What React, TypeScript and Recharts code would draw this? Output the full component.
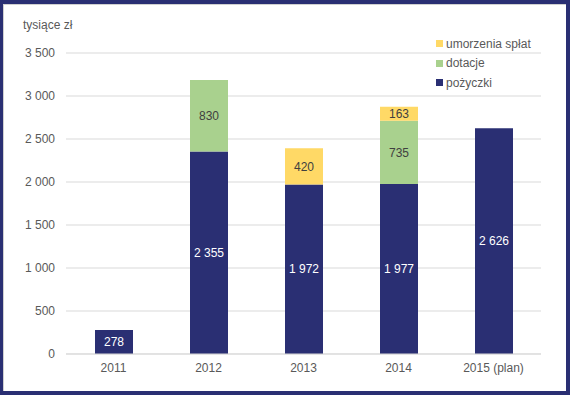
import React from "react";
import { BarChart, Bar, XAxis, YAxis, CartesianGrid, LabelList } from "recharts";

const years = ["2011", "2012", "2013", "2014", "2015 (plan)"];
const pozyczki = [278, 2355, 1972, 1977, 2626];
const dotacje = [null, 830, null, 735, null];
const umorzenia = [null, null, 420, 163, null];
const yTicks = [0, 500, 1000, 1500, 2000, 2500, 3000, 3500];

const NAVY = "#2a2f73";
const GREEN = "#a9d18e";
const YELLOW = "#ffd966";
const TEXT = "#595959";
const FONT = "'Liberation Sans', Arial, sans-serif";

const data = years.map((y, i) => ({
  year: y,
  pozyczki: pozyczki[i],
  dotacje: dotacje[i],
  umorzenia: umorzenia[i],
}));

// "2355" -> "2 355"
const fmt = (v: any) => {
  if (v === null || v === undefined || v === "") return "";
  return String(v).replace(/\B(?=(\d{3})+(?!\d))/g, " ");
};

const legendItems = [
  { label: "umorzenia spłat", color: YELLOW },
  { label: "dotacje", color: GREEN },
  { label: "pożyczki", color: NAVY },
];

// legend drawn as an overlay so it doesn't eat plot space
const LegendBox = () => (
  <div
    style={{
      position: "absolute",
      left: 436,
      top: 34,
      fontFamily: FONT,
      fontSize: 12,
      color: TEXT,
    }}
  >
    {legendItems.map((it) => (
      <div key={it.label} style={{ display: "flex", alignItems: "center", height: 19.5 }}>
        <span style={{ width: 7, height: 7, background: it.color, marginRight: 3, display: "inline-block" }} />
        <span>{it.label}</span>
      </div>
    ))}
  </div>
);

export default function App() {
  return (
    <div style={{ position: "absolute", left: 0, top: 0, width: 570, height: 395, background: "#fff" }}>
      <BarChart
        width={570}
        height={395}
        data={data}
        margin={{ top: 53, right: 29, bottom: 11, left: 0 }}
        barSize={38}
      >
        <CartesianGrid vertical={false} stroke="#d9d9d9" />
        <XAxis
          dataKey="year"
          height={30}
          tickSize={0}
          tickMargin={9}
          axisLine={{ stroke: "#d9d9d9" }}
          tick={{ fontSize: 12, fill: TEXT, fontFamily: FONT }}
        />
        <YAxis
          width={66}
          domain={[0, 3500]}
          ticks={yTicks}
          tickFormatter={fmt}
          tickSize={0}
          tickMargin={11}
          axisLine={false}
          tick={{ fontSize: 12, fill: TEXT, fontFamily: FONT }}
        />
        <Bar dataKey="pozyczki" stackId="a" fill={NAVY} isAnimationActive={false}>
          <LabelList dataKey="pozyczki" position="center" formatter={fmt} fill="#ffffff" fontSize={12} fontFamily={FONT} />
        </Bar>
        <Bar dataKey="dotacje" stackId="a" fill={GREEN} isAnimationActive={false}>
          <LabelList dataKey="dotacje" position="center" formatter={fmt} fill="#404040" fontSize={12} fontFamily={FONT} />
        </Bar>
        <Bar dataKey="umorzenia" stackId="a" fill={YELLOW} isAnimationActive={false}>
          <LabelList dataKey="umorzenia" position="center" formatter={fmt} fill="#404040" fontSize={12} fontFamily={FONT} />
        </Bar>
      </BarChart>
      <LegendBox />
      <div
        style={{
          position: "absolute",
          left: 23,
          top: 18,
          fontFamily: FONT,
          fontSize: 12,
          color: TEXT,
        }}
      >
        tysiące zł
      </div>
      <div
        style={{
          position: "absolute",
          left: 0,
          top: 0,
          width: 570,
          height: 395,
          boxSizing: "border-box",
          borderStyle: "solid",
          borderColor: NAVY,
          borderWidth: "4px 4px 4px 3px",
          boxShadow: "inset 1px 1px 0 #d0d0d0",
          pointerEvents: "none",
        }}
      />
    </div>
  );
}
